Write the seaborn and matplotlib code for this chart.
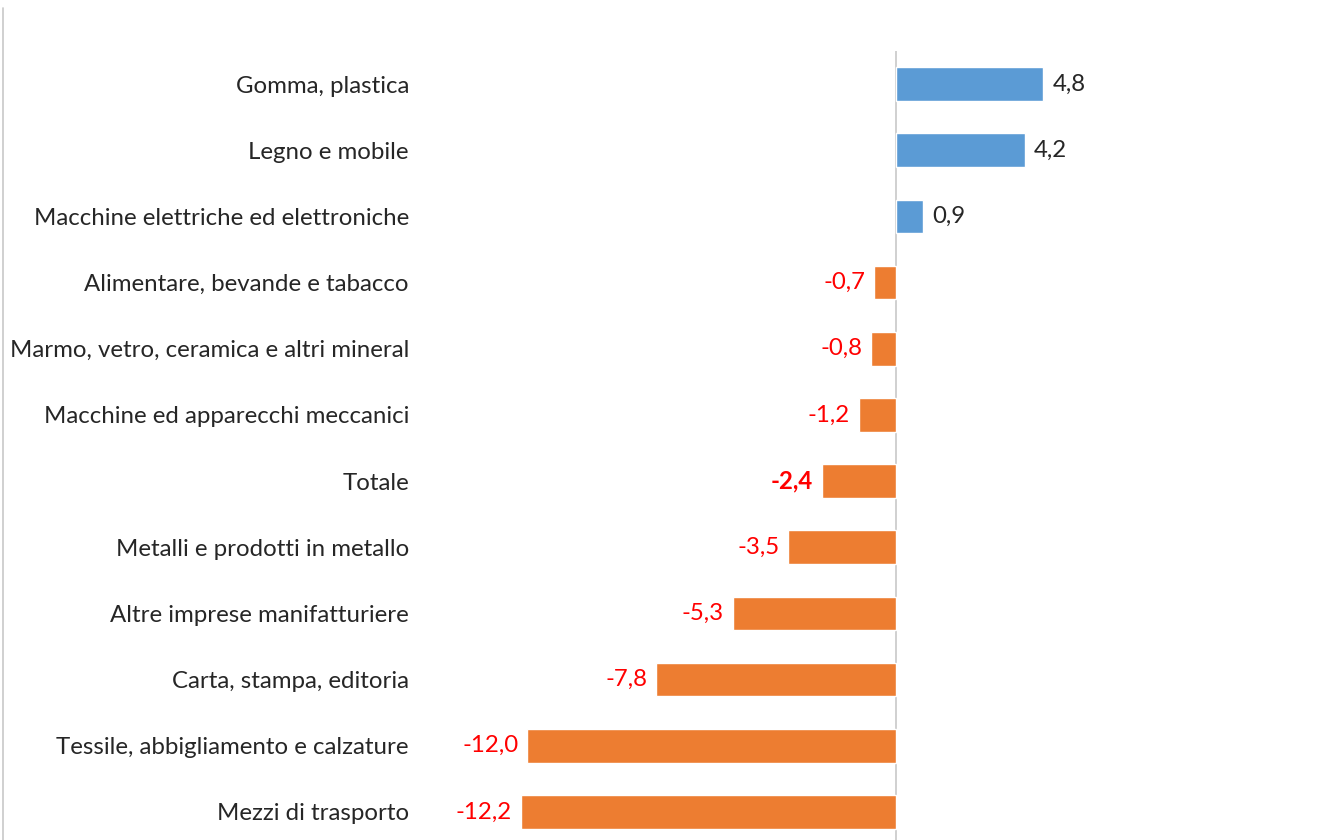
import matplotlib
matplotlib.use("Agg")
import matplotlib.pyplot as plt
import pandas as pd
import seaborn as sns
from matplotlib.lines import Line2D

# dati
settori = ['Gomma, plastica', 'Legno e mobile', 'Macchine elettriche ed elettroniche',
           'Alimentare, bevande e tabacco', 'Marmo, vetro, ceramica e altri mineral',
           'Macchine ed apparecchi meccanici', 'Totale', 'Metalli e prodotti in metallo',
           'Altre imprese manifatturiere', 'Carta, stampa, editoria',
           'Tessile, abbigliamento e calzature', 'Mezzi di trasporto']
variazioni = [4.8, 4.2, 0.9, -0.7, -0.8, -1.2, -2.4, -3.5, -5.3, -7.8, -12.0, -12.2]

df = pd.DataFrame({'settore': settori, 'var': variazioni})
df['segno'] = ['pos' if v >= 0 else 'neg' for v in df['var']]

sns.set_style("white")
plt.rcParams['font.family'] = ['Lato', 'DejaVu Sans']

fig = plt.figure(figsize=(13.41, 8.4), dpi=100)
ax = fig.add_axes([420 / 1341, 1 - 845 / 840, 921 / 1341, 794 / 840])

sns.barplot(data=df, y='settore', x='var', hue='segno',
            palette={'pos': '#5B9BD5', 'neg': '#ED7D31'}, saturation=1,
            orient='h', width=0.51, dodge=False, legend=False, ax=ax)

ax.set_xlim(-15.5, 14.5)
ax.set_ylim(len(settori) - 0.5, -0.5)
ax.axvline(0, color='#C8C8C8', lw=1.2, zorder=0)

for s in ax.spines.values():
    s.set_visible(False)
ax.set_xticks([])
ax.set_xlabel('')
ax.set_ylabel('')
ax.tick_params(axis='y', length=0, pad=8, labelsize=17.3, labelcolor='#262626')

# etichette dei valori
for i, v in enumerate(variazioni):
    txt = f"{v:.1f}".replace('.', ',')
    if v >= 0:
        ax.text(v + 0.3, i, txt, ha='left', va='center', fontsize=17.3, color='#262626')
    else:
        peso = 'bold' if settori[i] == 'Totale' else 'normal'
        ax.text(v - 0.3, i, txt, ha='right', va='center', fontsize=17.3,
                color='#FF0000', fontweight=peso)

# bordo sinistro del riquadro
fig.add_artist(Line2D([2.5 / 1341, 2.5 / 1341], [0, 1 - 8 / 840],
                      transform=fig.transFigure, color='#C8C8C8', lw=1.2))

fig.savefig('out.png', dpi=100)
